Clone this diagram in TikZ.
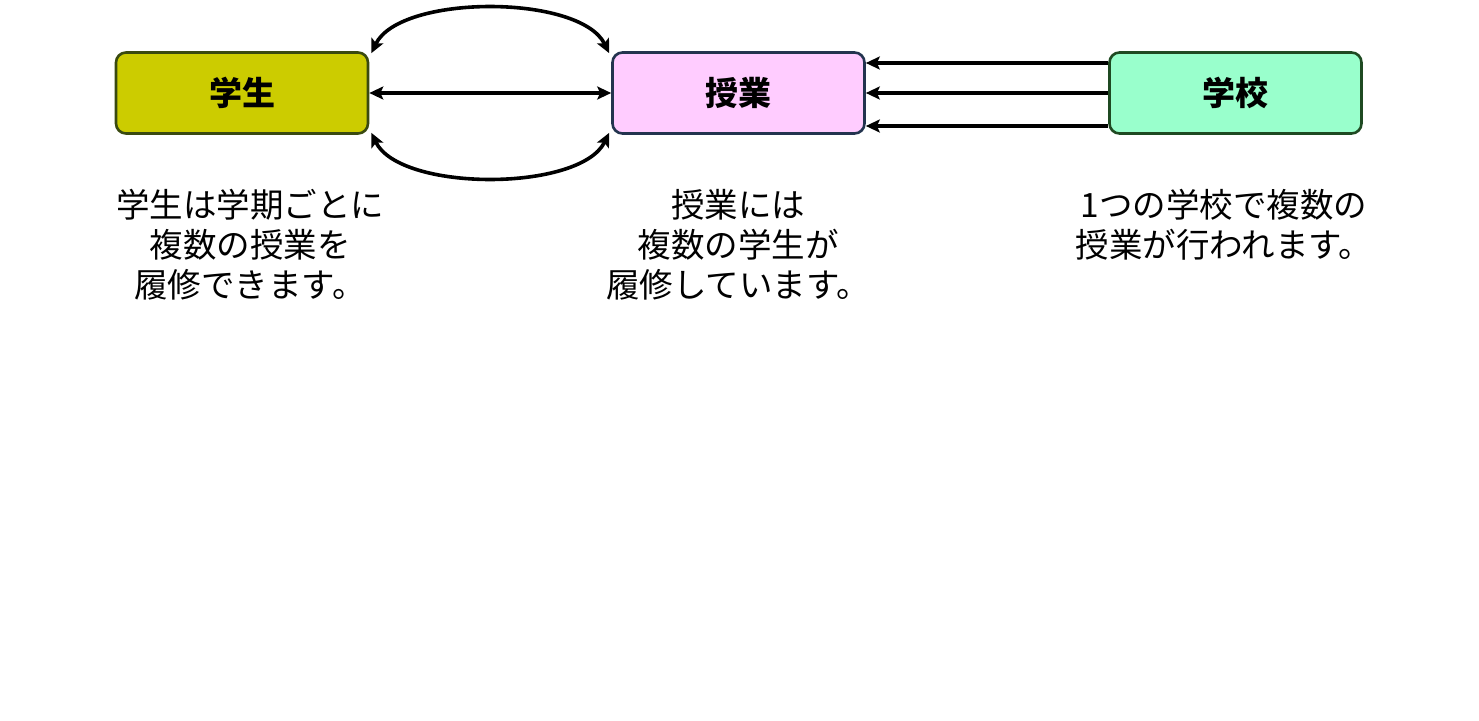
\documentclass[tikz,border=0pt]{standalone}
\usepackage{fontspec}
\setmainfont{Noto Sans CJK JP}
\newfontfamily\jpbold{Noto Sans CJK JP}[BoldFont={* Bold}]
\usetikzlibrary{arrows.meta}
\definecolor{stuFill}{HTML}{CCCC00}
\definecolor{stuDraw}{HTML}{3A4A10}
\definecolor{clsFill}{HTML}{FFCCFF}
\definecolor{clsDraw}{HTML}{23344F}
\definecolor{schFill}{HTML}{99FFCC}
\definecolor{schDraw}{HTML}{1F4A22}
\tikzset{
  entity/.style={draw, line width=2.6pt, rounded corners=10pt, minimum width=252pt, minimum height=81pt, inner sep=0pt, font=\fontsize{33}{38}\selectfont\bfseries},
  conn/.style={line width=3.6pt, black},
  tip/.style={-{Stealth[length=14pt,width=13pt,inset=3pt]}},
  bitip/.style={{Stealth[length=14pt,width=13pt,inset=3pt]}-{Stealth[length=14pt,width=13pt,inset=3pt]}},
  desc/.style={align=center, font=\fontsize{33.5}{40}\selectfont, inner sep=0pt}
}
\begin{document}
\begin{tikzpicture}[x=1pt,y=-1pt]
\useasboundingbox (0,0) rectangle (1479,720);
\fill[white] (0,0) rectangle (1479,720);
\node[entity, fill=stuFill, draw=stuDraw] (s) at (242,93) {学生};
\node[entity, fill=clsFill, draw=clsDraw] (j) at (738.5,93) {授業};
\node[entity, fill=schFill, draw=schDraw] (k) at (1235.5,93) {学校};
% student <-> class
\draw[conn, bitip] ([xshift=2pt,yshift=-2pt]s.north east) .. controls (400,-6) and (580,-6) .. ([xshift=-2pt,yshift=-2pt]j.north west);
\draw[conn, bitip] (s.east) -- (j.west);
\draw[conn, bitip] ([xshift=2pt,yshift=2pt]s.south east) .. controls (400,192) and (580,192) .. ([xshift=-2pt,yshift=2pt]j.south west);
% school -> class
\draw[conn, tip] ([yshift=30pt]k.west) -- ([yshift=30pt]j.east);
\draw[conn, tip] (k.west) -- (j.east);
\draw[conn, tip] ([yshift=-33pt]k.west) -- ([yshift=-33pt]j.east);
% descriptions
\node[desc, anchor=north] (ds) at (250,189) {学生は学期ごとに\\複数の授業を\\履修できます。};
\node[desc, anchor=north] (dj) at (738,189) {授業には\\複数の学生が\\履修しています。};
\node[desc, anchor=north] (dk) at (1224,189) {1つの学校で複数の\\授業が行われます。};
\end{tikzpicture}
\end{document}
